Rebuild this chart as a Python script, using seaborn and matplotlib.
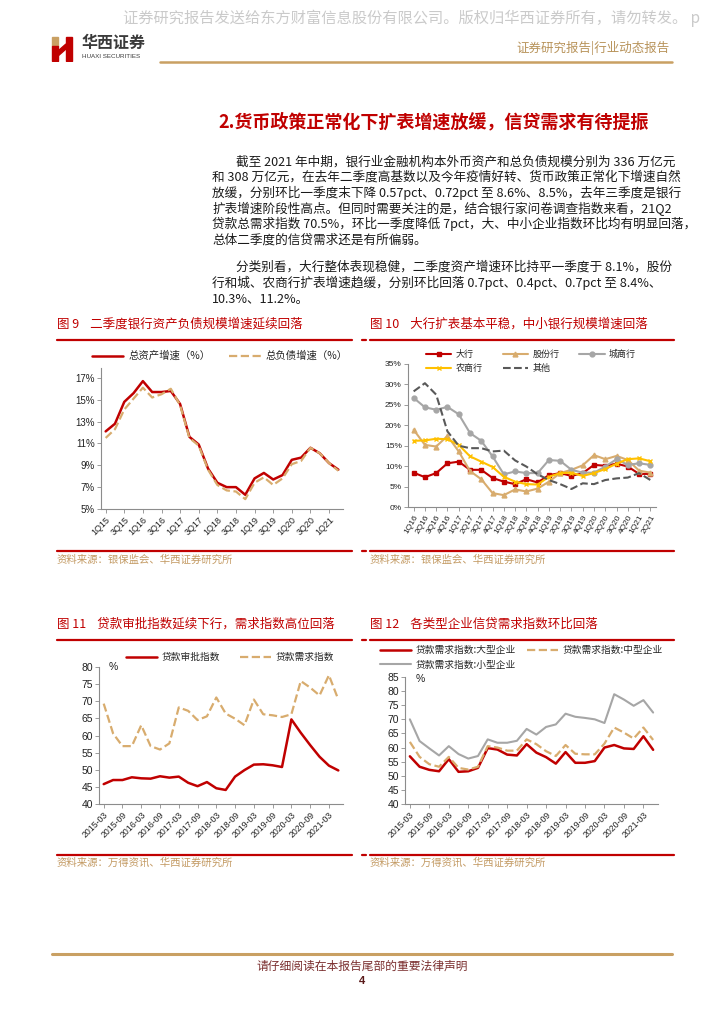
import matplotlib
matplotlib.use('Agg')
import numpy as np
import matplotlib.pyplot as plt
import seaborn as sns
from matplotlib.lines import Line2D
from matplotlib.patches import Polygon

W, H = 724, 1024

sns.set_theme(style='white')
plt.rcParams['font.family'] = ['Noto Sans CJK SC', 'DejaVu Sans']
plt.rcParams['axes.unicode_minus'] = False

RED = '#C00000'
TAN = '#D8AC6E'
GRAY = '#A6A6A6'
YELLOW = '#FFC000'
DARKGRAY = '#595959'
GOLD = '#C9A063'
SRC = '#C39A63'
NUM = ['Liberation Sans', 'DejaVu Sans']

# ── DATA ──
# 图9: 1Q15 - 2Q21
q9 = ['1Q15', '2Q15', '3Q15', '4Q15', '1Q16', '2Q16', '3Q16', '4Q16', '1Q17', '2Q17',
      '3Q17', '4Q17', '1Q18', '2Q18', '3Q18', '4Q18', '1Q19', '2Q19', '3Q19', '4Q19',
      '1Q20', '2Q20', '3Q20', '4Q20', '1Q21', '2Q21']
asset_growth = [12.1, 12.8, 14.8, 15.6, 16.7, 15.7, 15.7, 15.8, 14.6, 11.6,
                10.9, 8.7, 7.4, 7.0, 7.0, 6.3, 7.8, 8.3, 7.7, 8.1,
                9.5, 9.7, 10.6, 10.1, 9.2, 8.6]
liab_growth = [11.5, 12.3, 14.1, 15.1, 16.1, 15.2, 15.5, 16.0, 14.5, 11.5,
               10.8, 8.6, 7.2, 6.7, 6.6, 5.9, 7.4, 7.9, 7.2, 7.8,
               9.1, 9.4, 10.6, 10.1, 9.2, 8.5]

# 图10: 1Q16 - 2Q21
q10 = q9[4:]
big_banks = [8.4, 7.3, 8.3, 10.7, 11.1, 9.1, 9.1, 7.1, 6.2, 5.6, 6.8,
             6.0, 7.8, 8.3, 7.6, 8.3, 10.3, 10.1, 10.6, 9.9, 8.1, 8.1]
joint_stock = [18.9, 15.2, 14.8, 17.4, 13.6, 8.8, 6.8, 3.4, 2.9, 4.3, 3.8,
               4.5, 6.2, 8.3, 9.1, 10.2, 12.7, 11.7, 12.5, 11.5, 8.9, 8.4]
city_banks = [26.7, 24.4, 23.8, 24.5, 22.7, 18.1, 16.2, 12.4, 8.0, 8.7, 8.3,
              8.3, 11.5, 11.3, 9.1, 8.4, 8.4, 9.9, 11.7, 10.3, 10.7, 10.3]
rural_banks = [16.2, 16.3, 16.7, 16.6, 15.2, 12.4, 11.1, 9.8, 7.4, 6.2, 5.6,
               5.5, 7.4, 8.3, 8.4, 7.6, 8.3, 9.3, 10.6, 11.7, 11.9, 11.2]
other_banks = [28.3, 30.3, 27.5, 18.5, 15.0, 14.4, 14.4, 13.6, 13.8, 11.4, 9.9,
               8.0, 6.6, 5.6, 4.4, 5.8, 5.6, 6.6, 7.0, 7.2, 8.3, 6.6]

# 图11/12: 2015-03 - 2021-06
m11 = ['2015-03', '2015-06', '2015-09', '2015-12', '2016-03', '2016-06', '2016-09',
       '2016-12', '2017-03', '2017-06', '2017-09', '2017-12', '2018-03', '2018-06',
       '2018-09', '2018-12', '2019-03', '2019-06', '2019-09', '2019-12', '2020-03',
       '2020-06', '2020-09', '2020-12', '2021-03', '2021-06']
loan_approval = [45.8, 47.0, 47.0, 47.8, 47.5, 47.4, 48.1, 47.7, 48.0, 46.2, 45.2,
                 46.4, 44.6, 44.1, 48.0, 49.9, 51.5, 51.6, 51.3, 50.8, 64.7,
                 60.8, 57.2, 53.8, 51.2, 49.8]
loan_demand = [69.3, 60.6, 56.9, 56.9, 63.0, 56.9, 55.9, 57.7, 68.2, 67.2, 64.5,
               65.6, 71.1, 66.4, 64.9, 63.0, 70.5, 66.2, 65.9, 65.4, 66.2,
               75.9, 74.0, 71.7, 77.6, 70.5]
demand_large = [56.9, 53.2, 52.1, 51.6, 55.9, 51.4, 51.6, 52.8, 59.8, 59.3, 57.5,
                57.2, 61.2, 58.2, 56.6, 54.3, 58.4, 54.6, 54.6, 55.2, 60.0,
                60.9, 59.7, 59.5, 64.0, 59.2]
demand_medium = [62.0, 56.7, 54.1, 53.2, 56.7, 52.8, 52.2, 53.2, 60.5, 60.0, 58.9,
                 58.9, 62.9, 61.2, 58.7, 57.0, 60.9, 57.8, 57.6, 57.6, 61.4,
                 67.1, 65.3, 63.2, 67.1, 62.7]
demand_small = [70.0, 62.3, 59.7, 57.2, 60.5, 57.7, 56.1, 57.0, 62.9, 61.7, 61.7,
                62.4, 66.6, 64.6, 67.3, 68.2, 72.0, 70.9, 70.5, 70.0, 68.7,
                78.9, 77.0, 74.8, 76.8, 72.4]

body_p1 = ['截至 2021 年中期，银行业金融机构本外币资产和总负债规模分别为 336 万亿元',
           '和 308 万亿元，在去年二季度高基数以及今年疫情好转、货币政策正常化下增速自然',
           '放缓，分别环比一季度末下降 0.57pct、0.72pct 至 8.6%、8.5%，去年三季度是银行',
           '扩表增速阶段性高点。但同时需要关注的是，结合银行家问卷调查指数来看，21Q2',
           '贷款总需求指数 70.5%，环比一季度降低 7pct，大、中小企业指数环比均有明显回落，',
           '总体二季度的信贷需求还是有所偏弱。']
body_p2 = ['分类别看，大行整体表现稳健，二季度资产增速环比持平一季度于 8.1%，股份',
           '行和城、农商行扩表增速趋缓，分别环比回落 0.7pct、0.4pct、0.7pct 至 8.4%、',
           '10.3%、11.2%。']

fig = plt.figure(figsize=(W / 100, H / 100), dpi=100)
fig.patch.set_facecolor('white')


def box(x0, y0, x1, y1):
    return [x0 / W, 1 - y1 / H, (x1 - x0) / W, (y1 - y0) / H]


def ftext(x, y, s, **kw):
    kw.setdefault('va', 'center')
    fig.text(x / W, 1 - y / H, s, **kw)


def hline(x0, x1, y, color, lw):
    fig.add_artist(Line2D([x0 / W, x1 / W], [1 - y / H, 1 - y / H], color=color, lw=lw))


def style_ax(ax, ysize=7):
    sns.despine(ax=ax)
    for s in ['left', 'bottom']:
        ax.spines[s].set_color('#8C8C8C')
        ax.spines[s].set_linewidth(0.8)
    ax.tick_params(axis='both', direction='out', length=3, width=0.6, color='#8C8C8C',
                   labelsize=ysize, pad=1.5, left=True, bottom=True, labelcolor='#222222')
    ax.grid(False)
    ax.set_xlabel('')
    ax.set_ylabel('')


# ── HEADER ──
ftext(123, 18, '证券研究报告发送给东方财富信息股份有限公司。版权归华西证券所有，请勿转发。 p',
      fontsize=11, color='#CACACA')
logo = fig.add_axes(box(50, 35, 76, 62))
logo.set_xlim(0, 26)
logo.set_ylim(27, 0)
logo.axis('off')
logo.add_patch(Polygon([[2, 2], [8, 2], [8, 11], [2, 11]], color='#C9A063'))
logo.add_patch(Polygon([[2, 11], [8, 11], [8, 26], [2, 26]], color=RED))
logo.add_patch(Polygon([[8, 16], [16, 9], [16, 14], [8, 21]], color=RED))
logo.add_patch(Polygon([[16, 2], [22, 2], [22, 26], [16, 26]], color=RED))
ftext(82, 43, '华西证券', fontsize=11.5, fontweight='bold', color='#3A3A3A')
ftext(82, 56, 'HUAXI SECURITIES', fontsize=4.5, color='#3A3A3A', family=NUM)
ftext(670, 48, '证券研究报告|行业动态报告', fontsize=9, color='#B8935A', ha='right')
hline(160, 672, 62, GOLD, 1.8)

ftext(434, 122, '2.货币政策正常化下扩表增速放缓，信贷需求有待提振', fontsize=13,
      fontweight='bold', color=RED, ha='center')

ys1 = [162, 177.5, 193, 208.5, 224, 240]
for i, (yy, line) in enumerate(zip(ys1, body_p1)):
    ftext(236 if i == 0 else 212, yy, line, fontsize=9.1, color='#1A1A1A')
ys2 = [267, 283, 299]
for i, (yy, line) in enumerate(zip(ys2, body_p2)):
    ftext(236 if i == 0 else 212, yy, line, fontsize=9.1, color='#1A1A1A')

# ── SECTION FRAMES ──
for x0, x1, title in [(57, 352, '图 9    二季度银行资产负债规模增速延续回落'),
                      (370, 674, '图 10    大行扩表基本平稳，中小银行规模增速回落')]:
    ftext(x0, 324, title, fontsize=9, color=RED)
    hline(x0, x1, 340, RED, 1.6)
    hline(x0, x1, 551, RED, 1.6)
    ftext(x0, 560, '资料来源：银保监会、华西证券研究所', fontsize=7.5, color=SRC)
for x0, x1, title in [(57, 352, '图 11    贷款审批指数延续下行，需求指数高位回落'),
                      (370, 674, '图 12    各类型企业信贷需求指数环比回落')]:
    ftext(x0, 624, title, fontsize=9, color=RED)
    hline(x0, x1, 640, RED, 1.6)
    hline(x0, x1, 855, RED, 1.6)
    ftext(x0, 863, '资料来源：万得资讯、华西证券研究所', fontsize=7.5, color=SRC)
hline(362, 366, 340, RED, 1.6)
hline(362, 366, 551, RED, 1.6)
hline(362, 366, 640, RED, 1.6)
hline(362, 366, 855, RED, 1.6)

# ── 图9 ──
ax9 = fig.add_axes(box(101, 368, 343, 509))
x9 = np.arange(len(q9))
sns.lineplot(x=x9, y=asset_growth, ax=ax9, color=RED, lw=1.8, label='总资产增速（%）')
sns.lineplot(x=x9, y=liab_growth, ax=ax9, color=TAN, lw=1.6, linestyle='--',
             label='总负债增速（%）')
ax9.set_xlim(-0.5, len(q9) - 0.5)
ax9.set_ylim(5, 17.9)
style_ax(ax9)
ax9.set_yticks(range(5, 18, 2))
ax9.set_yticklabels([f'{v}%' for v in range(5, 18, 2)], family=NUM)
ax9.set_xticks(x9[::2])
ax9.set_xticklabels(q9[::2], rotation=45, ha='right', rotation_mode='anchor',
                    family=NUM, fontsize=6.5)
ax9.legend(loc='center left', bbox_to_anchor=(92 / W, 1 - 356 / H),
           bbox_transform=fig.transFigure, ncol=2, frameon=False, fontsize=7.5,
           handlelength=3.0, columnspacing=1.8, handletextpad=0.5, borderpad=0,
           borderaxespad=0)

# ── 图10 ──
ax10 = fig.add_axes(box(408, 364, 656, 507))
x10 = np.arange(len(q10))
series10 = [('大行', big_banks, RED, 's', '-'),
            ('股份行', joint_stock, TAN, '^', '-'),
            ('城商行', city_banks, GRAY, 'o', '-'),
            ('农商行', rural_banks, YELLOW, 'x', '-'),
            ('其他', other_banks, DARKGRAY, None, '--')]
for name, vals, col, mk, ls in series10:
    sns.lineplot(x=x10, y=vals, ax=ax10, color=col, lw=1.5, marker=mk, markersize=3.5,
                 markeredgecolor=col, markeredgewidth=1.0, linestyle=ls, label=name)
handles, labels = ax10.get_legend_handles_labels()
h10 = dict(zip(labels, handles))
order = ['大行', '农商行', '股份行', '其他', '城商行']
ax10.set_xlim(-0.5, len(q10) - 0.5)
ax10.set_ylim(0, 35)
style_ax(ax10, ysize=6)
ax10.set_yticks(range(0, 36, 5))
ax10.set_yticklabels([f'{v}%' for v in range(0, 36, 5)], family=NUM)
ax10.set_xticks(x10)
ax10.set_xticklabels(q10, rotation=60, ha='right', rotation_mode='anchor',
                     family=NUM, fontsize=6)
ax10.legend([h10[k] for k in order], order, loc='upper left',
            bbox_to_anchor=(426 / W, 1 - 350 / H), bbox_transform=fig.transFigure,
            ncol=3, frameon=False, fontsize=6.5, handlelength=2.8, columnspacing=2.2,
            handletextpad=0.5, borderpad=0, borderaxespad=0, labelspacing=0.55)

# ── 图11 ──
ax11 = fig.add_axes(box(99, 667, 343, 804))
x11 = np.arange(len(m11))
sns.lineplot(x=x11, y=loan_approval, ax=ax11, color=RED, lw=1.8, label='贷款审批指数')
sns.lineplot(x=x11, y=loan_demand, ax=ax11, color=TAN, lw=1.6, linestyle='--',
             label='贷款需求指数')
ax11.set_xlim(-0.5, len(m11) - 0.5)
ax11.set_ylim(40, 80)
style_ax(ax11, ysize=7.5)
ax11.set_yticks(range(40, 81, 5))
ax11.set_yticklabels([str(v) for v in range(40, 81, 5)], family=NUM)
ax11.set_xticks(x11[::2])
ax11.set_xticklabels(m11[::2], rotation=45, ha='right', rotation_mode='anchor',
                     family=NUM, fontsize=6.3)
ax11.legend(loc='center left', bbox_to_anchor=(126 / W, 1 - 657 / H),
            bbox_transform=fig.transFigure, ncol=2, frameon=False, fontsize=7,
            handlelength=3.2, columnspacing=2.0, handletextpad=0.5, borderpad=0,
            borderaxespad=0)
ftext(109, 667, '%', fontsize=7.5, family=NUM, color='#222222')

# ── 图12 ──
ax12 = fig.add_axes(box(405, 677, 658, 804))
x12 = np.arange(len(m11))
sns.lineplot(x=x12, y=demand_large, ax=ax12, color=RED, lw=1.8,
             label='贷款需求指数:大型企业')
sns.lineplot(x=x12, y=demand_medium, ax=ax12, color=TAN, lw=1.6, linestyle='--',
             label='贷款需求指数:中型企业')
sns.lineplot(x=x12, y=demand_small, ax=ax12, color=GRAY, lw=1.5,
             label='贷款需求指数:小型企业')
handles, labels = ax12.get_legend_handles_labels()
h12 = dict(zip(labels, handles))
order12 = ['贷款需求指数:大型企业', '贷款需求指数:小型企业', '贷款需求指数:中型企业']
ax12.set_xlim(-0.5, len(m11) - 0.5)
ax12.set_ylim(40, 85)
style_ax(ax12, ysize=7.5)
ax12.set_yticks(range(40, 86, 5))
ax12.set_yticklabels([str(v) for v in range(40, 86, 5)], family=NUM)
ax12.set_xticks(x12[::2])
ax12.set_xticklabels(m11[::2], rotation=45, ha='right', rotation_mode='anchor',
                     family=NUM, fontsize=6.3)
ax12.legend([h12[k] for k in order12], order12, loc='upper left',
            bbox_to_anchor=(380 / W, 1 - 645 / H), bbox_transform=fig.transFigure,
            ncol=2, frameon=False, fontsize=7, handlelength=3.2, columnspacing=1.1,
            handletextpad=0.5, borderpad=0, borderaxespad=0, labelspacing=0.5)
ftext(416, 679, '%', fontsize=7.5, family=NUM, color='#222222')

# ── FOOTER ──
hline(52, 672, 954, GOLD, 2.2)
ftext(362, 966, '请仔细阅读在本报告尾部的重要法律声明', fontsize=8.5, color='#7A2E2E', ha='center')
ftext(362, 981, '4', fontsize=8, fontweight='bold', color='#5A1A1A', ha='center', family=NUM)

fig.savefig('out.png', dpi=100, facecolor='white')
